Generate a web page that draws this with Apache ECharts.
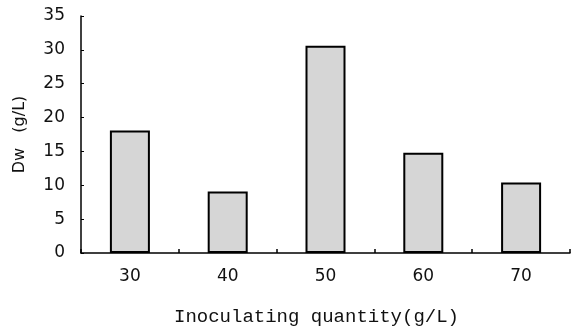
<!DOCTYPE html>
<html>
<head>
<meta charset="utf-8">
<script src="https://cdn.jsdelivr.net/npm/echarts@6/dist/echarts.min.js"></script>
<style>html,body{margin:0;padding:0;background:#fff;}#c{width:572px;height:331px;}</style>
</head>
<body>
<div id="c"></div>
<script>
var categories = ['30', '40', '50', '60', '70'];
var dwValues = [18.1, 9.1, 30.6, 14.8, 10.4];
var yTicks = [0, 5, 10, 15, 20, 25, 30, 35];

var chart = echarts.init(document.getElementById('c'), null, {renderer: 'canvas'});
chart.setOption({
  animation: false,
  backgroundColor: '#ffffff',
  grid: {left: 81, right: 2, top: 16, bottom: 77},
  xAxis: {
    type: 'category',
    data: categories,
    boundaryGap: true,
    name: 'Inoculating quantity(g/L)',
    nameLocation: 'middle',
    nameGap: 54,
    nameTextStyle: {fontFamily: 'Liberation Mono', fontSize: 19, color: '#111', padding: [0, 18, 0, 0]},
    axisLine: {lineStyle: {color: '#000', width: 1.5}},
    axisTick: {show: true, inside: true, length: 4, lineStyle: {color: '#000', width: 1.5}},
    axisLabel: {margin: 15, fontFamily: 'DejaVu Sans', fontSize: 17, color: '#111'}
  },
  yAxis: {
    type: 'value',
    min: yTicks[0],
    max: yTicks[yTicks.length - 1],
    interval: 5,
    name: 'Dw   (g/L)',
    nameLocation: 'middle',
    nameGap: 53,
    nameTextStyle: {fontFamily: 'DejaVu Sans', fontSize: 16, color: '#111'},
    splitLine: {show: false},
    axisLine: {show: true, lineStyle: {color: '#000', width: 1.5}},
    axisTick: {show: true, inside: true, length: 3, lineStyle: {color: '#000', width: 1}},
    axisLabel: {margin: 16, fontFamily: 'DejaVu Sans', fontSize: 17, color: '#111'}
  },
  series: [{
    type: 'bar',
    data: dwValues,
    barWidth: 40,
    itemStyle: {color: '#d6d6d6', borderColor: '#000', borderWidth: 2}
  }]
});
</script>
</body>
</html>
